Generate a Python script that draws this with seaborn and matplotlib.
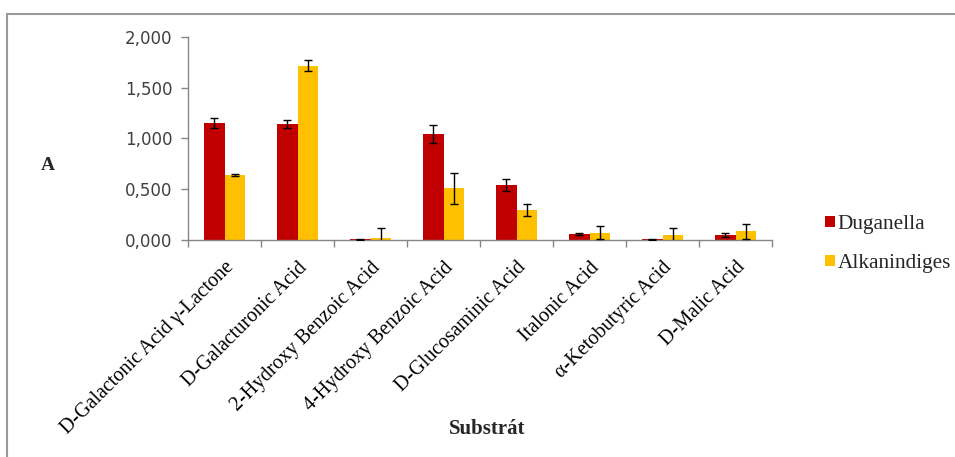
import numpy as np
import pandas as pd
import matplotlib
matplotlib.use("Agg")
import matplotlib.pyplot as plt
from matplotlib.lines import Line2D
import seaborn as sns

# Substrates and mean values with standard errors per strain
substrates = [
    "D-Galactonic Acid γ-Lactone",
    "D-Galacturonic Acid",
    "2-Hydroxy Benzoic Acid",
    "4-Hydroxy Benzoic Acid",
    "D-Glucosaminic Acid",
    "Italonic Acid",
    "α-Ketobutyric Acid",
    "D-Malic Acid",
]
strains = ["Duganella", "Alkanindiges"]
duganella = [1.155, 1.143, 0.005, 1.047, 0.542, 0.059, 0.008, 0.049]
duganella_err = [0.050, 0.035, 0.003, 0.090, 0.055, 0.010, 0.005, 0.017]
alkanindiges = [0.640, 1.717, 0.020, 0.509, 0.296, 0.072, 0.049, 0.085]
alkanindiges_err = [0.010, 0.055, 0.100, 0.150, 0.060, 0.066, 0.066, 0.075]
yticks = [0.0, 0.5, 1.0, 1.5, 2.0]
ytick_labels = ["0,000", "0,500", "1,000", "1,500", "2,000"]

colors = {"Duganella": "#C00000", "Alkanindiges": "#FFC000"}

df = pd.DataFrame({
    "Substrát": substrates * 2,
    "A": duganella + alkanindiges,
    "strain": [strains[0]] * len(substrates) + [strains[1]] * len(substrates),
})
errs = {"Duganella": duganella_err, "Alkanindiges": alkanindiges_err}
vals = {"Duganella": duganella, "Alkanindiges": alkanindiges}

sns.set_theme(style="white")
serif = "Liberation Serif"

fig = plt.figure(figsize=(9.55, 4.57), dpi=100)
ax = fig.add_axes([188 / 955, 1 - 240 / 457, (772 - 188) / 955, (240 - 37) / 457])

sns.barplot(data=df, x="Substrát", y="A", hue="strain", hue_order=strains,
            palette=colors, width=0.56, errorbar=None, saturation=1,
            edgecolor="none", linewidth=0, ax=ax)

# error bars centred on each drawn bar
for cont, name in zip(ax.containers, strains):
    xs = [p.get_x() + p.get_width() / 2 for p in cont.patches]
    ax.errorbar(xs, vals[name], yerr=errs[name], fmt="none", ecolor="black",
                elinewidth=1.0, capsize=2.8, capthick=1.0, zorder=5)

ax.set_xlim(-0.5, len(substrates) - 0.5)
ax.set_ylim(0, 2.0)
ax.set_yticks(yticks)
ax.set_yticklabels(ytick_labels, fontsize=12, color="#404040", family="DejaVu Sans")

ax.set_xticks(range(len(substrates)))
ax.set_xticklabels(substrates, rotation=45, ha="right", va="top",
                   rotation_mode="anchor", family=serif, fontsize=14.5, color="black")
ax.set_xticks(np.arange(-0.5, len(substrates)), minor=True)
ax.tick_params(axis="x", which="major", length=0, pad=13)
ax.tick_params(axis="x", which="minor", length=5, width=1, color="#868686", direction="out", bottom=True)
ax.tick_params(axis="y", length=5, width=1, color="#868686", direction="out", left=True, pad=6)

for s in ["top", "right"]:
    ax.spines[s].set_visible(False)
for s in ["left", "bottom"]:
    ax.spines[s].set_color("#868686")
    ax.spines[s].set_linewidth(1)

ax.set_xlabel("")
ax.set_ylabel("")
fig.text(487 / 955, 1 - 429 / 457, "Substrát", family=serif, fontsize=15,
         fontweight="bold", ha="center", va="center")
fig.text(48 / 955, 1 - 165 / 457, "A", family=serif, fontsize=14,
         fontweight="bold", ha="center", va="center")

handles, labels = ax.get_legend_handles_labels()
ax.legend(handles, labels, loc="center left", bbox_to_anchor=(825 / 955, 1 - 244 / 457),
          bbox_transform=fig.transFigure, frameon=False, handlelength=0.45,
          handleheight=0.45, handletextpad=0.15, labelspacing=0.95, borderpad=0,
          borderaxespad=0, prop={"family": serif, "size": 15.3})

# outer frame lines
fig.add_artist(Line2D([7 / 955, 7 / 955], [0, 1 - 14 / 457], transform=fig.transFigure,
                      color="#9a9a9a", linewidth=1.5))
fig.add_artist(Line2D([7 / 955, 1], [1 - 14 / 457, 1 - 14 / 457], transform=fig.transFigure,
                      color="#9a9a9a", linewidth=1.5))

fig.savefig("out.png", dpi=100, facecolor="white")
